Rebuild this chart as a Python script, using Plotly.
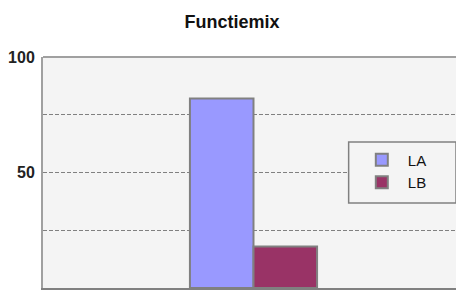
import plotly.graph_objects as go

title = "Functiemix"
categories = ["Functiemix"]
series_names = ["LA", "LB"]
series_values = [[82], [18]]
series_colors = ["#9999ff", "#993366"]
y_tickvals = [0, 25, 50, 75, 100]
y_ticktext = ["0", "", "50", "", "100"]

fig = go.Figure()
for name, vals, col in zip(series_names, series_values, series_colors):
    fig.add_trace(go.Bar(
        x=categories, y=vals, name=name,
        marker=dict(color=col, line=dict(color="#808080", width=2)),
    ))

# page has an 8px body margin, so the figure is sized to the remaining window
fig.update_layout(
    width=456, height=282,
    margin=dict(l=32, r=0, t=49, b=2, pad=0),
    paper_bgcolor="white",
    plot_bgcolor="#f4f4f4",
    barmode="group",
    bargap=0.698,
    bargroupgap=0,
    title=dict(text="<b>" + title + "</b>", x=224 / 456, xanchor="center",
               y=0.950, yanchor="middle", yref="container",
               font=dict(family="Liberation Sans, Arial", size=18, color="#111111")),
    font=dict(family="Liberation Sans, Arial"),
    showlegend=True,
    legend=dict(
        x=0.743, xanchor="left", y=0.626, yanchor="top",
        bgcolor="rgba(0,0,0,0)", borderwidth=0, itemwidth=42,
        font=dict(family="Liberation Sans, Arial", size=15, color="#111111"),
    ),
    shapes=[
        dict(type="rect", xref="paper", yref="paper",
             x0=0.726, x1=0.981, y0=0.368, y1=0.632,
             fillcolor="#f4f4f4", line=dict(color="#808080", width=1.5), layer="above"),
        dict(type="line", xref="paper", yref="paper",
             x0=0, x1=1, y0=1, y1=1, line=dict(color="#a0a0a0", width=2)),
    ],
)
fig.update_xaxes(showticklabels=False, showgrid=False, ticks="",
                 showline=True, linecolor="#808080", linewidth=3, zeroline=False)
fig.update_yaxes(range=[0, 100], tickvals=y_tickvals, ticktext=y_ticktext,
                 showgrid=True, gridcolor="#808080", gridwidth=1, griddash="4px,2px",
                 showline=True, linecolor="#a0a0a0", linewidth=2, zeroline=False,
                 ticks="", ticklen=0, ticklabelstandoff=3,
                 tickfont=dict(family="Liberation Sans, Arial", size=16, color="#222222",
                               weight="bold"))

fig.write_html("out.html")
